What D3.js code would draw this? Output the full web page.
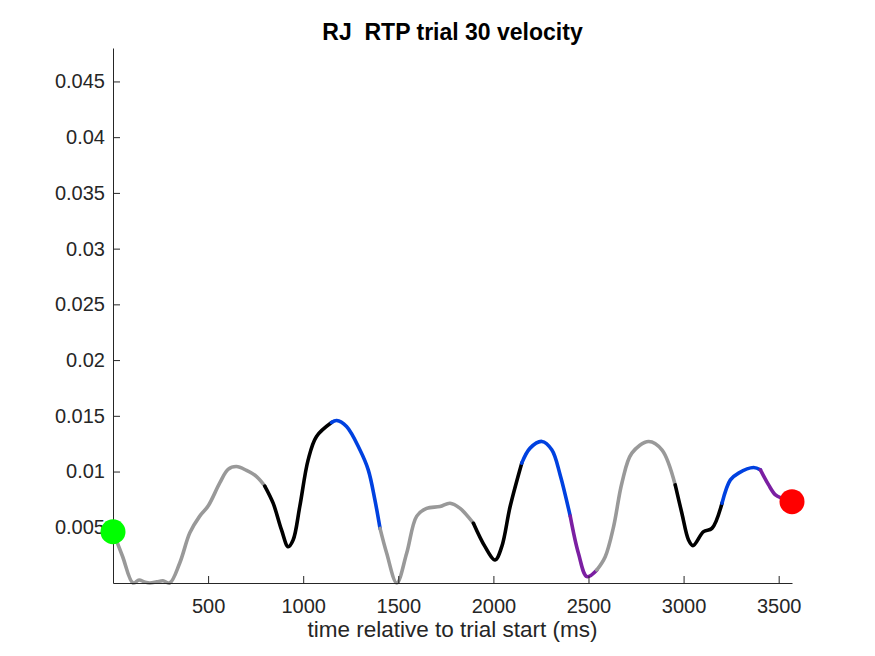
<!DOCTYPE html>
<html lang="en">
<head>
    <meta charset="UTF-8">
    <title>RJ RTP trial 30 velocity</title>
    <script src="https://d3js.org/d3.v7.min.js"></script>
    <style>
        body { margin: 0; background: #fff; }
        svg { font-family: "Liberation Sans", Arial, sans-serif; }
        .axis text { font-size: 20px; fill: #262626; }
        .axis path, .axis line { stroke: #262626; }
        .title { font-size: 23px; font-weight: bold; fill: #000; }
        .axis-label { font-size: 22.5px; fill: #262626; }
        .seg { fill: none; stroke-width: 3.6px; stroke-linecap: round; stroke-linejoin: round; }
    </style>
</head>
<body>
    <svg width="875" height="656"></svg>

    <script>
        // Data: time (ms) and velocity
        const times = [0, 50, 105, 137, 165, 193, 230, 263, 298, 351, 404, 456, 500, 562, 605, 649, 702, 755, 798,
            842, 886, 921, 947, 982, 1026, 1070, 1149,
            1176, 1228, 1298, 1342, 1377, 1404,
            1439, 1492, 1544, 1597, 1649, 1719, 1772, 1825, 1895,
            1956, 2009, 2044, 2088, 2149,
            2193, 2255, 2307, 2351, 2404,
            2447, 2492, 2544,
            2588, 2632, 2676, 2728, 2816, 2886, 2956,
            2991, 3026, 3049, 3105, 3149, 3202,
            3246, 3289, 3368, 3404,
            3447, 3483, 3518, 3570];
        const velocity = [0.0046, 0.0024, 0.0, 0.00027, 0.0001, 0.0, 0.0001, 0.0002, 0.0, 0.0018, 0.0045, 0.006, 0.0069, 0.009, 0.0102, 0.01045, 0.0101, 0.00955, 0.0087,
            0.00716, 0.00476, 0.00326, 0.00386, 0.00686, 0.01105, 0.01315, 0.0144,
            0.01458, 0.01404, 0.01195, 0.01015, 0.00746, 0.0049,
            0.00267, 0.0, 0.00267, 0.006, 0.0067, 0.00686, 0.00716, 0.0067, 0.00536,
            0.00326, 0.00207, 0.00326, 0.00686, 0.01075,
            0.0121, 0.0127, 0.01195, 0.0097, 0.006,
            0.00267, 0.00057, 0.00117,
            0.00236, 0.00506, 0.009, 0.01165, 0.0127, 0.01195, 0.0088,
            0.00626, 0.00386, 0.00335, 0.00461, 0.0049, 0.00716,
            0.00925, 0.00986, 0.01036, 0.01015,
            0.0088, 0.0079, 0.0076, 0.0073];

        // Coloured phases: [start ms, end ms, colour]
        const phaseStart = [0, 798, 1149, 1404, 1895, 2149, 2404, 2544, 2956, 3202, 3404];
        const phaseEnd = [798, 1149, 1404, 1895, 2149, 2404, 2544, 2956, 3202, 3404, 3570];
        const phaseColor = ["#999999", "#000000", "#0041e0", "#999999", "#000000", "#0041e0",
            "#7b1fa2", "#999999", "#000000", "#0041e0", "#7b1fa2"];

        const xTicks = [500, 1000, 1500, 2000, 2500, 3000, 3500];
        const yTicks = [0.005, 0.01, 0.015, 0.02, 0.025, 0.03, 0.035, 0.04, 0.045];

        const points = times.map((t, i) => ({ t: t, v: velocity[i] }));

        const svg = d3.select("svg"),
            margin = { top: 48, right: 83, bottom: 73, left: 113 },
            width = +svg.attr("width") - margin.left - margin.right,
            height = +svg.attr("height") - margin.top - margin.bottom,
            g = svg.append("g").attr("transform", "translate(" + margin.left + "," + margin.top + ")");

        const x = d3.scaleLinear().domain([0, 3570]).range([0, width]);
        const y = d3.scaleLinear().domain([0, 0.048]).range([height, 0]);

        const line = d3.line()
            .curve(d3.curveCatmullRom.alpha(0.5))
            .x(d => x(d.t))
            .y(d => y(d.v));

        // Draw each phase as its own segment
        phaseStart.forEach((s, i) => {
            const seg = points.filter(p => p.t >= s && p.t <= phaseEnd[i]);
            g.append("path")
                .datum(seg)
                .attr("class", "seg")
                .attr("stroke", phaseColor[i])
                .attr("d", line);
        });

        // Axes (ticks point inward, MATLAB style)
        g.append("g")
            .attr("class", "axis axis-x")
            .attr("transform", "translate(0," + height + ")")
            .call(d3.axisBottom(x).tickValues(xTicks).tickSize(-7).tickPadding(16).tickSizeOuter(0).tickFormat(d3.format("d")));

        g.append("g")
            .attr("class", "axis axis-y")
            .call(d3.axisLeft(y).tickValues(yTicks).tickSize(-7).tickPadding(8).tickSizeOuter(0).tickFormat(d => String(+d.toFixed(3))));

        // Start and end markers
        const first = points[0], last = points[points.length - 1];
        g.append("circle")
            .attr("cx", x(first.t)).attr("cy", y(first.v)).attr("r", 12.5)
            .attr("fill", "#00ff00");
        g.append("circle")
            .attr("cx", x(last.t)).attr("cy", y(last.v)).attr("r", 12.5)
            .attr("fill", "#ff0000");

        // Title
        svg.append("text")
            .attr("class", "title")
            .attr("x", margin.left + width / 2)
            .attr("y", 40)
            .style("text-anchor", "middle")
            .style("white-space", "pre")
            .text("RJ  RTP trial 30 velocity");

        // x-axis label
        svg.append("text")
            .attr("class", "axis-label")
            .attr("x", margin.left + width / 2)
            .attr("y", 637)
            .style("text-anchor", "middle")
            .text("time relative to trial start (ms)");
    </script>
</body>
</html>
